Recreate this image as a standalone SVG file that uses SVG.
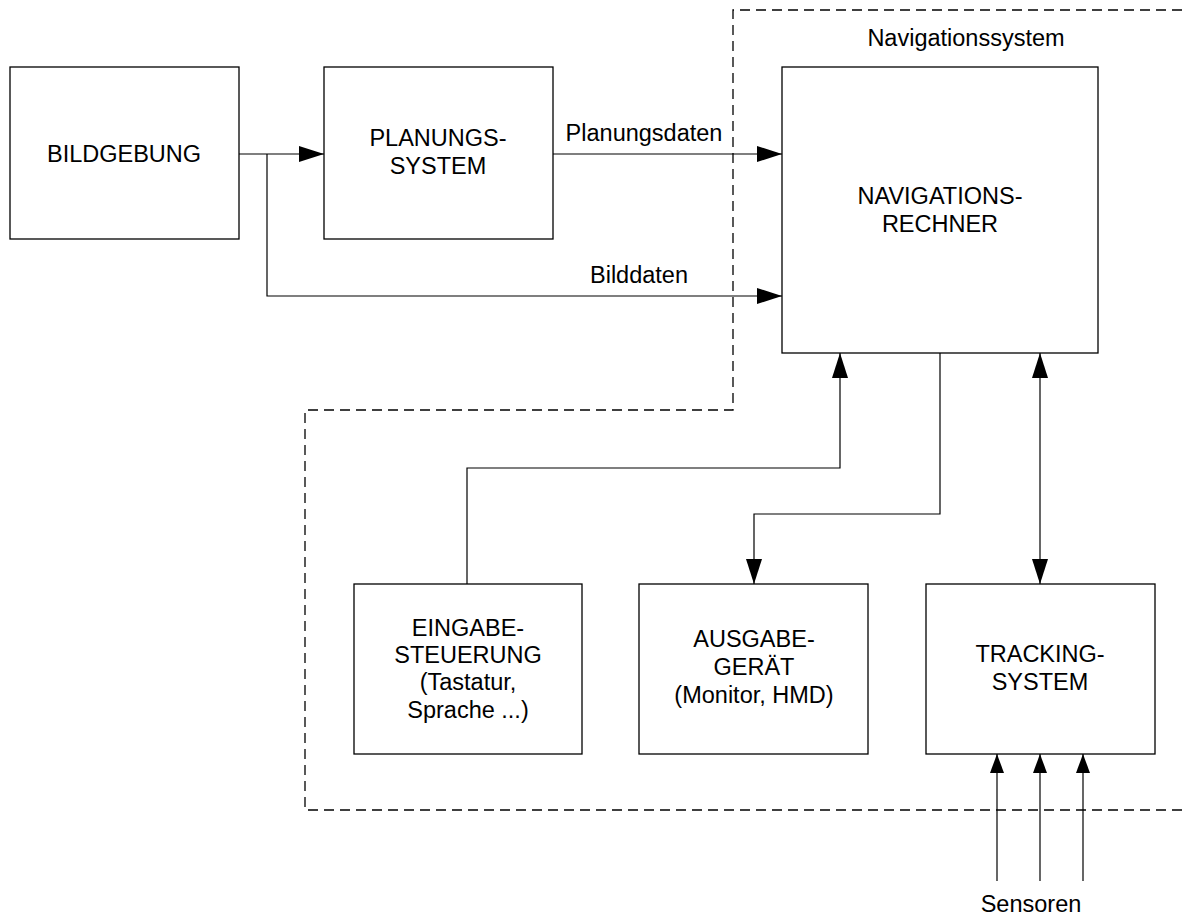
<svg xmlns="http://www.w3.org/2000/svg" width="1182" height="917" viewBox="0 0 1182 917">
  <style>
    .box { fill: #fff; stroke: #000; stroke-width: 1.3; }
    .line { fill: none; stroke: #000; stroke-width: 1.2; }
    .dash { fill: none; stroke: #000; stroke-width: 1.3; stroke-dasharray: 10 6; }
    text { font-family: "Liberation Sans", Arial, sans-serif; font-size: 23.5px; fill: #000; text-anchor: middle; }
  </style>
  <defs>
    <marker id="arrow" markerUnits="userSpaceOnUse" viewBox="0 0 25 16" refX="25" refY="8" markerWidth="25" markerHeight="16" orient="auto-start-reverse">
      <path d="M0,0 L25,8 L0,16 Z" fill="#000"/>
    </marker>
    <marker id="arrowSmall" markerUnits="userSpaceOnUse" viewBox="0 0 19 14" refX="19" refY="7" markerWidth="19" markerHeight="14" orient="auto">
      <path d="M0,0 L19,7 L0,14 Z" fill="#000"/>
    </marker>
  </defs>
  <rect width="1182" height="917" fill="#fff"/>

  <g id="boundary">
    <path class="dash" d="M1182,10 H733 V410 H305 V810 H1182"/>
    <text x="966" y="46">Navigationssystem</text>
  </g>

  <g id="connectors">
    <path class="line" d="M239,154 H324" marker-end="url(#arrow)"/>
    <path class="line" d="M267,154 V296 H782" marker-end="url(#arrow)"/>
    <path class="line" d="M553,154 H782" marker-end="url(#arrow)"/>
    <path class="line" d="M467,584 V468 H840 V353" marker-end="url(#arrow)"/>
    <path class="line" d="M940,353 V514 H754 V584" marker-end="url(#arrow)"/>
    <path class="line" d="M1040,353 V584" marker-start="url(#arrow)" marker-end="url(#arrow)"/>
    <path class="line" d="M997,881 V754" marker-end="url(#arrowSmall)"/>
    <path class="line" d="M1040,881 V754" marker-end="url(#arrowSmall)"/>
    <path class="line" d="M1083,881 V754" marker-end="url(#arrowSmall)"/>
    <text x="644" y="141">Planungsdaten</text>
    <text x="639" y="283">Bilddaten</text>
    <text x="1031" y="912">Sensoren</text>
  </g>

  <g id="bildgebung">
    <rect class="box" x="10" y="67" width="229" height="172"/>
    <text x="124" y="162">BILDGEBUNG</text>
  </g>

  <g id="planungssystem">
    <rect class="box" x="324" y="67" width="229" height="172"/>
    <text x="438" y="146">PLANUNGS-</text>
    <text x="438" y="174">SYSTEM</text>
  </g>

  <g id="navigationsrechner">
    <rect class="box" x="782" y="67" width="316" height="286"/>
    <text x="940" y="204">NAVIGATIONS-</text>
    <text x="940" y="232">RECHNER</text>
  </g>

  <g id="eingabesteuerung">
    <rect class="box" x="354" y="584" width="228" height="170"/>
    <text x="468" y="636">EINGABE-</text>
    <text x="468" y="663">STEUERUNG</text>
    <text x="468" y="690">(Tastatur,</text>
    <text x="468" y="718">Sprache ...)</text>
  </g>

  <g id="ausgabegeraet">
    <rect class="box" x="639" y="584" width="229" height="170"/>
    <text x="754" y="647">AUSGABE-</text>
    <text x="754" y="675">GERÄT</text>
    <text x="754" y="703">(Monitor, HMD)</text>
  </g>

  <g id="trackingsystem">
    <rect class="box" x="926" y="584" width="229" height="170"/>
    <text x="1040" y="662">TRACKING-</text>
    <text x="1040" y="690">SYSTEM</text>
  </g>
</svg>
